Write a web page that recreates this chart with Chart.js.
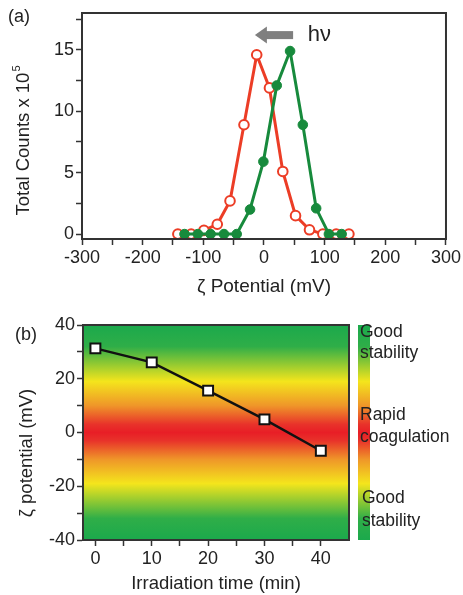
<!DOCTYPE html>
<html>
<head>
<meta charset="utf-8">
<script src="https://cdn.jsdelivr.net/npm/chart.js@4.4.1/dist/chart.umd.min.js"></script>
<style>
  html, body { margin: 0; padding: 0; background: #fff; }
  #wrap { position: relative; width: 463px; height: 595px; overflow: hidden; }
  canvas { position: absolute; left: 0; }
  #chartA { top: 0; }
  #chartB { top: 295px; }
</style>
</head>
<body>
<div id="wrap">
  <canvas id="chartA" width="463" height="300"></canvas>
  <canvas id="chartB" width="463" height="300"></canvas>
</div>
<script>
// ---- data, panel (a): zeta potential distributions ----
const zetaAfter = [-142, -120, -99, -77, -56, -33, -12, 9, 31, 52, 75, 97, 119, 140];
const countsAfter = [0, 0, 0.3, 0.8, 2.7, 8.9, 14.6, 11.9, 5.1, 1.5, 0.35, 0, 0, 0];
const zetaBefore = [-131, -109, -88, -66, -45, -23, -1, 21, 43, 64, 86, 107, 128];
const countsBefore = [0, 0, 0, 0, 0, 2.0, 5.9, 12.1, 14.9, 8.9, 2.1, 0, 0];
const xTicksA = [-300, -250, -200, -150, -100, -50, 0, 50, 100, 150, 200, 250, 300];
const xLabelsA = [-300, -200, -100, 0, 100, 200, 300];
const yTicksA = [0, 2.5, 5, 7.5, 10, 12.5, 15, 17.5];
const yLabelsA = [0, 5, 10, 15];

// ---- data, panel (b): zeta potential vs irradiation time ----
const times = [0, 10, 20, 30, 40];
const zetaTime = [31.3, 26.1, 15.6, 4.9, -6.8];
const xTicksB = [0, 5, 10, 15, 20, 25, 30, 35, 40];
const xLabelsB = [0, 10, 20, 30, 40];
const yTicksB = [-40, -30, -20, -10, 0, 10, 20, 30, 40];
const yLabelsB = [-40, -20, 0, 20, 40];

const FONT = '"Liberation Sans", Arial, Helvetica, sans-serif';
const INK = '#222';
const AXIS = '#333';
const RED = '#ec3d26';
const GREEN = '#178a3c';

// stability colour band, value -> colour (symmetric about 0)
const bandStops = [[40, '#1ba94c'], [32, '#2fae48'], [19, '#f4e51c'], [10, '#ef9629'], [3, '#e8322a'], [0, '#e81e26']];

const pts = (xs, ys) => xs.map((x, i) => ({ x: x, y: ys[i] }));

function axisOpts(ticks, labels, extra) {
  return Object.assign({
    type: 'linear',
    afterBuildTicks: s => { s.ticks = ticks.map(v => ({ value: v })); },
    grid: { drawOnChartArea: false, drawTicks: true, tickLength: 6, tickColor: AXIS, tickWidth: 1.5 },
    border: { display: true, color: AXIS, width: 2 },
    ticks: {
      autoSkip: false,
      maxRotation: 0,
      minRotation: 0,
      padding: 2,
      color: INK,
      font: { family: FONT, size: 18 },
      callback: v => labels.includes(v) ? String(v) : ''
    }
  }, extra);
}

// frame + free text drawn on top of the chart
function framePlugin(id, draw) {
  return {
    id: id,
    afterDraw(chart) {
      const { ctx, chartArea: a } = chart;
      ctx.save();
      ctx.strokeStyle = AXIS;
      ctx.lineWidth = 2;
      ctx.strokeRect(a.left, a.top, a.right - a.left, a.bottom - a.top);
      ctx.restore();
      ctx.save();
      draw(chart, ctx);
      ctx.restore();
    }
  };
}

function rotTitle(ctx, text, sup, cx, cy, size) {
  ctx.translate(cx, cy);
  ctx.rotate(-Math.PI / 2);
  ctx.fillStyle = INK;
  ctx.font = size + 'px ' + FONT;
  const w1 = ctx.measureText(text).width;
  ctx.font = Math.round(size * 0.6) + 'px ' + FONT;
  const w2 = sup ? ctx.measureText(sup).width : 0;
  const x0 = -(w1 + w2) / 2;
  ctx.textBaseline = 'middle';
  ctx.textAlign = 'left';
  ctx.font = size + 'px ' + FONT;
  ctx.fillText(text, x0, 0);
  if (sup) {
    ctx.font = Math.round(size * 0.6) + 'px ' + FONT;
    ctx.fillText(sup, x0 + w1 + 1, -size * 0.38);
  }
}

// arrow showing the shift on irradiation (data coordinates)
const arrowFrom = 48, arrowTo = -15, arrowY = 16.2, hvX = 72;

const chartA = new Chart(document.getElementById('chartA'), {
  type: 'line',
  data: {
    datasets: [
      {
        label: 'after',
        data: pts(zetaAfter, countsAfter),
        borderColor: RED,
        borderWidth: 3,
        pointRadius: 4.8,
        pointBackgroundColor: '#fff',
        pointBorderColor: RED,
        pointBorderWidth: 2,
        tension: 0,
        order: 2
      },
      {
        label: 'before',
        data: pts(zetaBefore, countsBefore),
        borderColor: GREEN,
        borderWidth: 3,
        pointRadius: 4.8,
        pointBackgroundColor: GREEN,
        pointBorderColor: GREEN,
        pointBorderWidth: 1,
        tension: 0,
        order: 1
      }
    ]
  },
  options: {
    responsive: false,
    animation: false,
    layout: { padding: { top: 13, right: 17, left: 0, bottom: 0 } },
    plugins: { legend: { display: false }, tooltip: { enabled: false } },
    scales: {
      x: axisOpts(xTicksA, xLabelsA, {
        min: -300, max: 300,
        afterFit: s => { s.height = 61; },
        title: { display: true, text: 'ζ Potential (mV)', color: INK, font: { family: FONT, size: 19 }, padding: { top: 0, bottom: 2 } }
      }),
      y: axisOpts(yTicksA, yLabelsA, {
        min: -0.4, max: 18,
        afterFit: s => { s.width = 82; }
      })
    }
  },
  plugins: [framePlugin('frameA', (chart, ctx) => {
    const xs = chart.scales.x, ys = chart.scales.y;
    // arrow
    const x1 = xs.getPixelForValue(arrowFrom), x2 = xs.getPixelForValue(arrowTo), y = ys.getPixelForValue(arrowY);
    ctx.fillStyle = '#7f7f7f';
    ctx.fillRect(x2 + 11, y - 4, x1 - x2 - 11, 8);
    ctx.beginPath();
    ctx.moveTo(x2, y);
    ctx.lineTo(x2 + 12, y - 8.5);
    ctx.lineTo(x2 + 12, y + 8.5);
    ctx.closePath();
    ctx.fill();
    ctx.fillStyle = INK;
    ctx.font = '22px ' + FONT;
    ctx.textBaseline = 'middle';
    ctx.fillText('hν', xs.getPixelForValue(hvX), y);
    // panel label and y title
    ctx.font = '18px ' + FONT;
    ctx.fillText('(a)', 8, 17);
    rotTitle(ctx, 'Total Counts x 10', '5', 24, 141, 18.5);
  })]
});

const chartB = new Chart(document.getElementById('chartB'), {
  type: 'line',
  data: {
    datasets: [{
      data: pts(times, zetaTime),
      borderColor: '#111',
      borderWidth: 2.5,
      pointStyle: 'rect',
      pointRadius: 7,
      pointBackgroundColor: '#fff',
      pointBorderColor: '#111',
      pointBorderWidth: 2,
      tension: 0
    }]
  },
  options: {
    responsive: false,
    animation: false,
    layout: { padding: { top: 30, right: 114, left: 0, bottom: 0 } },
    plugins: { legend: { display: false }, tooltip: { enabled: false } },
    scales: {
      x: axisOpts(xTicksB, xLabelsB, {
        min: -2.2, max: 45,
        afterFit: s => { s.height = 55; },
        title: { display: true, text: 'Irradiation time (min)', color: INK, font: { family: FONT, size: 18.5 }, padding: { top: 0, bottom: 0 } }
      }),
      y: axisOpts(yTicksB, yLabelsB, {
        min: -40, max: 40,
        afterFit: s => { s.width = 83; }
      })
    }
  },
  plugins: [
    {
      id: 'band',
      beforeDatasetsDraw(chart) {
        const { ctx, chartArea: a, scales: { y } } = chart;
        const top = y.getPixelForValue(40), bot = y.getPixelForValue(-40);
        const g = ctx.createLinearGradient(0, top, 0, bot);
        const stops = bandStops.concat(bandStops.slice(0, -1).reverse().map(([v, c]) => [-v, c]));
        stops.forEach(([v, c]) => g.addColorStop((y.getPixelForValue(v) - top) / (bot - top), c));
        ctx.save();
        ctx.fillStyle = g;
        ctx.fillRect(a.left, a.top, a.right - a.left, a.bottom - a.top);
        // colour bar on the right
        ctx.fillRect(a.right + 9, a.top, 12, a.bottom - a.top);
        ctx.restore();
      }
    },
    framePlugin('frameB', (chart, ctx) => {
      ctx.fillStyle = INK;
      ctx.textBaseline = 'middle';
      ctx.textAlign = 'left';
      ctx.font = '17.5px ' + FONT;
      ctx.fillText('Good', 360, 37);
      ctx.fillText('stability', 360, 58);
      ctx.fillText('Rapid', 360, 120);
      ctx.fillText('coagulation', 360, 142);
      ctx.fillText('Good', 362, 203);
      ctx.fillText('stability', 362, 226);
      ctx.font = '18px ' + FONT;
      ctx.fillText('(b)', 15, 40);
      rotTitle(ctx, 'ζ potential (mV)', '', 27, 158, 18.5);
    })
  ]
});
</script>
</body>
</html>
